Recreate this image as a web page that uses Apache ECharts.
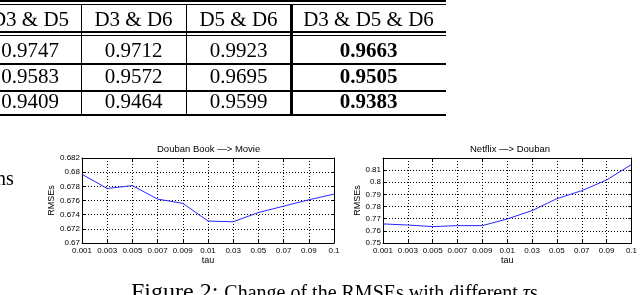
<!DOCTYPE html>
<html><head><meta charset="utf-8">
<script src="https://cdn.jsdelivr.net/npm/echarts@6/dist/echarts.min.js"></script>
<style>
html,body{margin:0;padding:0;background:#fff;width:640px;height:295px;overflow:hidden;position:relative;}
#chart{position:absolute;left:0;top:0;width:640px;height:295px;}
.t{position:absolute;font-family:"Liberation Serif",serif;color:#000;white-space:nowrap;}
.cell{position:absolute;text-align:center;font-family:"Liberation Serif",serif;font-size:21px;line-height:24px;height:24px;white-space:nowrap;color:#000;}
.ln{position:absolute;background:#000;}
</style></head><body>
<div id="chart"></div>
<div id="tbl"></div>
<div class="t" style="left:-4px;top:168px;font-size:20px;line-height:20px;">ns</div>
<div class="t" style="left:131px;top:279px;font-size:24px;line-height:24px;">Figure 2: <span style="font-size:20px">Change of the RMSEs with different <i>τ</i>s</span></div>
<script>
// ---- data ----
const tableHeaders = ['D3 & D5', 'D3 & D6', 'D5 & D6', 'D3 & D5 & D6'];
const tableRow1 = ['0.9747', '0.9712', '0.9923', '0.9663'];
const tableRow2 = ['0.9583', '0.9572', '0.9695', '0.9505'];
const tableRow3 = ['0.9409', '0.9464', '0.9599', '0.9383'];
const tauLabels = ['0.001', '0.003', '0.005', '0.007', '0.009', '0.01', '0.03', '0.05', '0.07', '0.09', '0.1'];
const doubanBookMovie = [0.6797, 0.6777, 0.6781, 0.6762, 0.6756, 0.6731, 0.6730, 0.6743, 0.6752, 0.6761, 0.6769];
const netflixDouban = [0.7657, 0.7648, 0.7635, 0.7643, 0.7643, 0.7698, 0.7767, 0.7865, 0.7931, 0.8019, 0.8146];
const title1 = 'Douban Book \u2014> Movie';
const title2 = 'Netflix \u2014> Douban';

// ---- table (HTML) ----
(function(){
  const tbl = document.getElementById('tbl');
  const colEdges = [-21, 81, 186, 291, 446];
  const rowCenters = [19, 50, 76, 101];
  const rows = [tableHeaders, tableRow1, tableRow2, tableRow3];
  rows.forEach((r, ri) => {
    r.forEach((txt, ci) => {
      const d = document.createElement('div');
      d.className = 'cell';
      d.style.left = colEdges[ci] + 'px';
      d.style.width = (colEdges[ci+1] - colEdges[ci]) + 'px';
      d.style.top = (rowCenters[ri] - 12) + 'px';
      if (ri > 0 && ci === 3) d.style.fontWeight = 'bold';
      d.textContent = txt;
      tbl.appendChild(d);
    });
  });
  const hl = [[0,2],[4,1],[31,2],[34.5,1],[63,1.5],[90,1.5],[114,2]];
  hl.forEach(([y,h]) => {
    const d = document.createElement('div'); d.className='ln';
    d.style.left='0px'; d.style.width='446px'; d.style.top=y+'px'; d.style.height=h+'px';
    tbl.appendChild(d);
  });
  const vl = [[80.5,1.5],[185.5,1.5],[290,2.5]];
  vl.forEach(([x,w]) => {
    const d = document.createElement('div'); d.className='ln';
    d.style.left=x+'px'; d.style.width=w+'px'; d.style.top='4px'; d.style.height='111px';
    tbl.appendChild(d);
  });
})();

// ---- charts ----
const chart = echarts.init(document.getElementById('chart'), null, {renderer:'canvas'});
const sans = 'Liberation Sans, Arial, sans-serif';
const lbl = {fontFamily: sans, fontSize: 8, color: '#000'};
const dotted = {color:'#000', width:1, type:[1,2]};
const grids = [
  {left:82, top:158, width:252, height:85},
  {left:383, top:158, width:253, height:85}
];
function xMain(g){
  return {gridIndex:g, type:'category', data:tauLabels, boundaryGap:false, position:'bottom',
    axisLine:{lineStyle:{color:'#000', width:1}},
    axisTick:{inside:true, length:3, lineStyle:{color:'#000'}},
    axisLabel:Object.assign({margin:4, interval:0}, lbl),
    splitLine:{show:true, interval:0, lineStyle:dotted},
    name:'tau', nameLocation:'middle', nameGap:13,
    nameTextStyle:{fontFamily:sans, fontSize:9, color:'#000'}};
}
function xTop(g){
  return {gridIndex:g, type:'category', data:tauLabels, boundaryGap:false, position:'top',
    axisLine:{show:true, lineStyle:{color:'#000', width:1}},
    axisTick:{show:true, inside:true, length:3, lineStyle:{color:'#000'}},
    axisLabel:{show:false}, splitLine:{show:false}};
}
function yMain(g, min, max, step, gap){
  return {gridIndex:g, type:'value', min:min, max:max, interval:step, position:'left',
    axisLine:{show:true, lineStyle:{color:'#000', width:1}},
    axisTick:{show:true, inside:true, length:3, lineStyle:{color:'#000'}},
    axisLabel:Object.assign({margin:2, formatter:function(v){
      if (g === 1 && Math.abs(v - max) < 1e-9) return '';
      return String(+v.toFixed(4));
    }}, lbl),
    splitLine:{show:true, lineStyle:dotted},
    name:'RMSEs', nameLocation:'middle', nameGap:gap,
    nameTextStyle:{fontFamily:sans, fontSize:9, color:'#000'}};
}
function yRight(g, min, max, step){
  return {gridIndex:g, type:'value', min:min, max:max, interval:step, position:'right',
    axisLine:{show:true, lineStyle:{color:'#000', width:1}},
    axisTick:{show:true, inside:true, length:3, lineStyle:{color:'#000'}},
    axisLabel:{show:false}, splitLine:{show:false}};
}
const option = {
  backgroundColor:'transparent',
  animation:false,
  grid: grids,
  xAxis:[xMain(0), xTop(0), xMain(1), xTop(1)],
  yAxis:[yMain(0, 0.67, 0.682, 0.002, 26), yRight(0, 0.67, 0.682, 0.002),
         yMain(1, 0.75, 0.82, 0.01, 21), yRight(1, 0.75, 0.82, 0.01)],
  graphic:[
    {type:'text', left:157, top:144, style:{text:title1, font:'9.5px '+sans, fill:'#000'}},
    {type:'text', left:470, top:144, style:{text:title2, font:'9.5px '+sans, fill:'#000'}}
  ],
  series:[
    {type:'line', xAxisIndex:0, yAxisIndex:0, data:doubanBookMovie, showSymbol:false, symbol:'none',
     lineStyle:{color:'#2626ff', width:1}},
    {type:'line', xAxisIndex:2, yAxisIndex:2, data:netflixDouban, showSymbol:false, symbol:'none',
     lineStyle:{color:'#2626ff', width:1}}
  ]
};
chart.setOption(option);
</script>
</body></html>
